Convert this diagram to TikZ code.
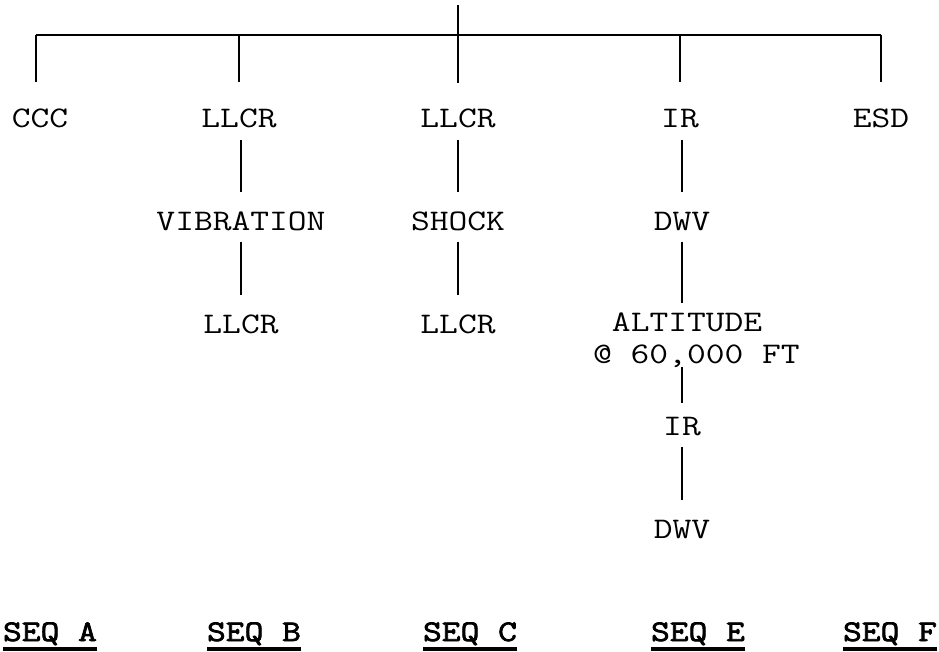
\documentclass[tikz,border=0pt]{standalone}
\usepackage{fontspec}
\newfontfamily\treefont[FakeStretch=1.22]{Latin Modern Mono}
\newfontfamily\seqfont[FakeStretch=1.22,FakeBold=2.5]{Latin Modern Mono}
\usetikzlibrary{positioning,calc}
\tikzset{
 lbl/.style={font=\treefont\fontsize{30}{32}\selectfont,inner sep=0pt,text height=18bp,text depth=0pt,anchor=base},
 seqlbl/.style={font=\seqfont\fontsize{30}{32}\selectfont,inner sep=0pt,anchor=base},
 wire/.style={line width=1.6bp,draw=black},
 drop/.style={wire,shorten >=28bp},
 link/.style={wire,shorten <=12bp,shorten >=20bp},
 uline/.style={line width=3.5bp}
}
\begin{document}
\begin{tikzpicture}[x=1bp,y=-1bp]
\useasboundingbox (0,0) rectangle (939,652);
% first row
\node[lbl] (ccc) at (40,128) {CCC};
\node[lbl] (llcrB) at (239,128) {LLCR};
\node[lbl] (llcrC) at (458,128) {LLCR};
\node[lbl] (ir) at (680,128) {IR};
\node[lbl] (esd) at (881,128) {ESD};
% second row
\node[lbl] (vib) at (241,230) {VIBRATION};
\node[lbl] (shock) at (458,230) {SHOCK};
\node[lbl] (dwv) at (682,230) {DWV};
% third row
\node[lbl] (llcrB2) at (241,333) {LLCR};
\node[lbl] (llcrC2) at (458,333) {LLCR};
\node[lbl,text height=,align=left,anchor=north west] (alt) at (593,313) {\phantom{X}ALTITUDE\\@ 60,000 FT};
\node[lbl] (ir2) at (682,435) {IR};
\node[lbl] (dwv2) at (682,538) {DWV};
% sequences
\node[seqlbl] (seqA) at (50,641) {SEQ A};
\node[seqlbl] (seqB) at (254,641) {SEQ B};
\node[seqlbl] (seqC) at (470,641) {SEQ C};
\node[seqlbl] (seqE) at (698,641) {SEQ E};
\node[seqlbl] (seqF) at (890,641) {SEQ F};
% tree
\coordinate (root) at (458,5);
\coordinate (barL) at (36,35);
\coordinate (barR) at (881,35);
\draw[wire] (barL) -- (barR);
\draw[wire,shorten >=27bp] (root) -- (llcrC.north);
\draw[drop] (barL) -- (barL |- ccc.north);
\foreach \n in {llcrB,ir,esd} \draw[drop] (\n.north |- barL) -- (\n.north);
\foreach \x/\y in {llcrB/vib,vib/llcrB2,llcrC/shock,shock/llcrC2,ir/dwv,ir2/dwv2}
 \draw[link] (\y.north |- \x.south) -- (\y.north);
\draw[link,shorten >=10bp] (dwv.south) -- (dwv.south |- alt.north);
\draw[wire,shorten <=3bp,shorten >=14bp] (ir2.north |- alt.south) -- (ir2.north);
\foreach \s in {seqA,seqB,seqC,seqE,seqF}
 \draw[uline] ([yshift=-8bp]\s.base west) -- ([yshift=-8bp]\s.base east);
\end{tikzpicture}
\end{document}
